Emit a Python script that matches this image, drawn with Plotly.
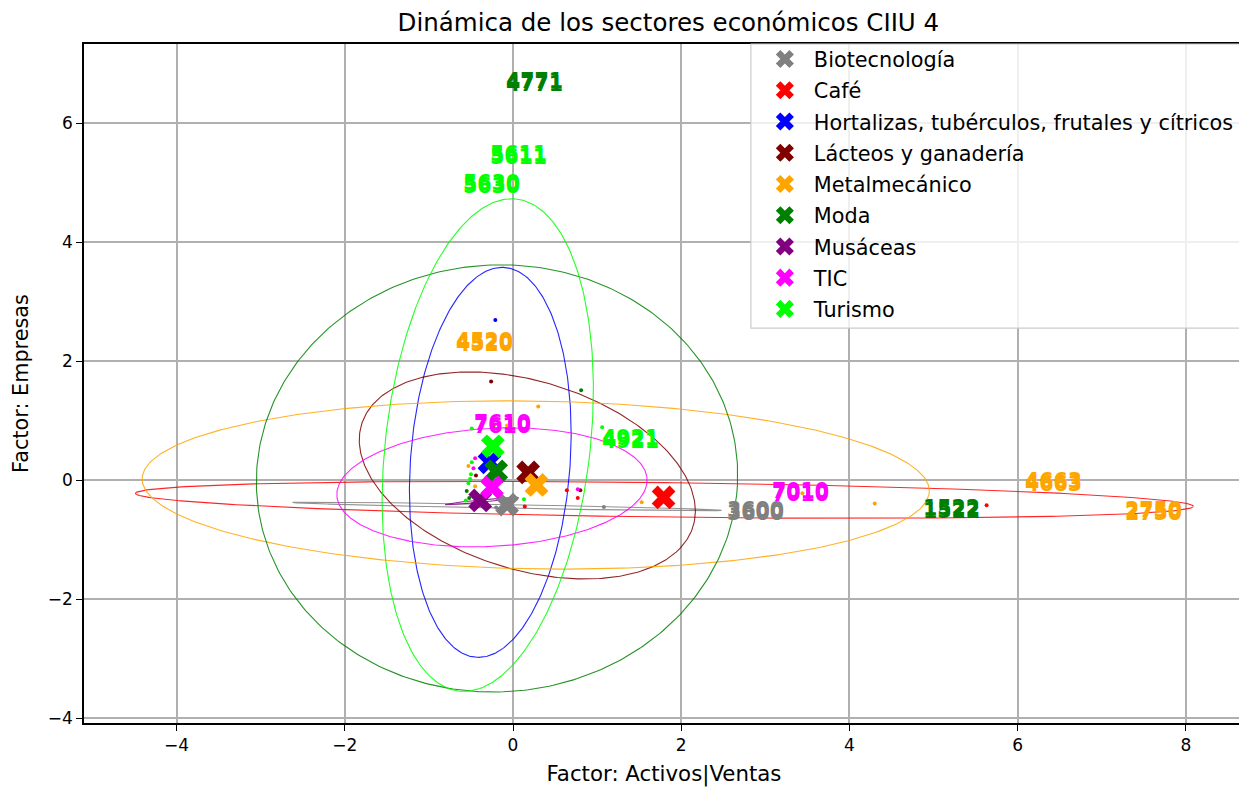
import numpy as np
import plotly.graph_objects as go

# ---------------- data ----------------
sectors = ["Biotecnología", "Café", "Hortalizas, tubérculos, frutales y cítricos",
           "Lácteos y ganadería", "Metalmecánico", "Moda", "Musáceas", "TIC", "Turismo"]
colors = ["#808080", "#ff0000", "#0000ff", "#800000", "#ffa500", "#008000",
          "#800080", "#ff00ff", "#00ff00"]

# sector centroids
cent_x = [-0.07, 1.79, -0.28, 0.18, 0.28, -0.20, -0.39, -0.25, -0.24]
cent_y = [-0.41, -0.29, 0.30, 0.13, -0.08, 0.15, -0.34, -0.12, 0.57]

# confidence ellipses: centre, semi-axes, rotation (deg)
ell_cx = [-0.07, 1.80, -0.27, 0.17, 0.27, -0.19, -0.37, -0.25, -0.30]
ell_cy = [-0.44, -0.33, 0.30, 0.08, -0.08, 0.03, -0.35, -0.12, 0.59]
ell_a = [2.55, 6.29, 0.95, 2.19, 4.68, 2.86, 0.44, 1.85, 1.22]
ell_b = [0.03, 0.29, 3.28, 1.49, 1.41, 3.59, 0.02, 0.99, 4.15]
ell_ang = [-1.5, -1.0, -2.7, -34.0, -1.35, -2.0, 7.6, 5.2, -4.3]

# firm points per sector
pts_x = [
    [1.08, -0.20],
    [0.64, 0.77, 0.14, 5.63],
    [-0.21],
    [-0.26, -0.44, 0.80],
    [0.30, -0.53, -0.45, 1.53, 4.30, 3.44, -0.07],
    [0.81, -0.23, -0.55, -0.52],
    [-0.48],
    [-0.45, 0.77, -0.47],
    [1.06, -0.49, -0.49, -0.50, -0.51, -0.53, -0.56, 0.13],
]
pts_y = [
    [-0.45, -0.46],
    [-0.17, -0.30, -0.44, -0.42],
    [2.69],
    [1.66, 0.08, -0.17],
    [1.24, 0.24, -0.10, -0.37, -0.39, -0.22, 0.92],
    [1.51, 0.92, -0.18, -0.30],
    [-0.40],
    [0.37, -0.15, 0.20],
    [0.89, 0.87, 0.30, 0.10, 0.02, -0.05, -0.34, -0.32],
]

# CIIU code labels of outlying firms
lab_text = ["4771", "5611", "5630", "4520", "7610", "4921", "7010", "3600", "1522", "4663", "2750"]
lab_x = [0.25, 0.07, -0.25, -0.34, -0.13, 1.40, 3.42, 2.88, 5.21, 6.42, 7.61]
lab_y = [6.69, 5.46, 4.97, 2.32, 0.94, 0.69, -0.20, -0.52, -0.49, -0.03, -0.52]
lab_sector = [5, 8, 8, 4, 7, 8, 7, 0, 5, 4, 4]

FONT = "DejaVu Sans"

# ---------------- figure ----------------
fig = go.Figure()
t = np.linspace(0, 2 * np.pi, 361)

for i, s in enumerate(sectors):
    th = np.deg2rad(ell_ang[i])
    ex = ell_cx[i] + ell_a[i] * np.cos(t) * np.cos(th) - ell_b[i] * np.sin(t) * np.sin(th)
    ey = ell_cy[i] + ell_a[i] * np.cos(t) * np.sin(th) + ell_b[i] * np.sin(t) * np.cos(th)
    fig.add_trace(go.Scatter(x=ex, y=ey, mode="lines", line=dict(color=colors[i], width=1.1),
                             opacity=0.85, showlegend=False, hoverinfo="skip"))

for i, s in enumerate(sectors):
    fig.add_trace(go.Scatter(x=pts_x[i], y=pts_y[i], mode="markers",
                             marker=dict(color=colors[i], size=4), showlegend=False))

for i, s in enumerate(sectors):
    fig.add_trace(go.Scatter(x=[cent_x[i]], y=[cent_y[i]], mode="markers", name=s,
                             legendgroup=s,
                             marker=dict(symbol="x", color=colors[i], size=21,
                                         line=dict(width=0))))

for k, txt in enumerate(lab_text):
    c = colors[lab_sector[k]]
    fig.add_annotation(x=lab_x[k], y=lab_y[k], xref="x", yref="y", text="<b>%s</b>" % txt,
                       showarrow=False, yshift=-2,
                       font=dict(family=FONT, size=20.5, color=c,
                                 shadow="0px -3px 0px %s" % c))

# legend frame (matplotlib-style box)
fig.add_shape(type="rect", xref="paper", yref="paper", x0=0.5749, x1=1.0, y0=0.5817, y1=1.0,
              line=dict(color="#cccccc", width=1.2), fillcolor="rgba(255,255,255,0.8)",
              layer="above")

fig.update_layout(
    width=1239, height=780,
    margin=dict(l=76, r=1, t=36, b=65),
    paper_bgcolor="white", plot_bgcolor="white",
    font=dict(family=FONT, size=17, color="black"),
    title=dict(text="Dinámica de los sectores económicos CIIU 4", x=0.533, xanchor="center",
               y=1 - 14 / 780, yanchor="middle", font=dict(family=FONT, size=24.5)),
    legend=dict(x=0.5792, y=1.0074, xanchor="left", yanchor="top", bgcolor="rgba(0,0,0,0)",
                borderwidth=0, font=dict(family=FONT, size=20.8),
                itemsizing="trace", tracegroupgap=1.2, itemwidth=48),
    showlegend=True,
)
axis_common = dict(showline=True, mirror=True, linecolor="black", linewidth=1.5,
                   ticks="outside", ticklen=6, tickwidth=1.2, tickcolor="black",
                   showgrid=True, gridcolor="#b0b0b0", gridwidth=1.5, zeroline=False,
                   dtick=2, tickfont=dict(family=FONT, size=17))
fig.update_xaxes(range=[-5.10, 8.69],
                 title=dict(text="Factor: Activos|Ventas", standoff=12,
                            font=dict(family=FONT, size=21.3)),
                 **axis_common)
fig.update_yaxes(range=[-4.08, 7.33],
                 title=dict(text="Factor: Empresas", standoff=14,
                            font=dict(family=FONT, size=20.8)),
                 **axis_common)

fig.write_html("out.html")
